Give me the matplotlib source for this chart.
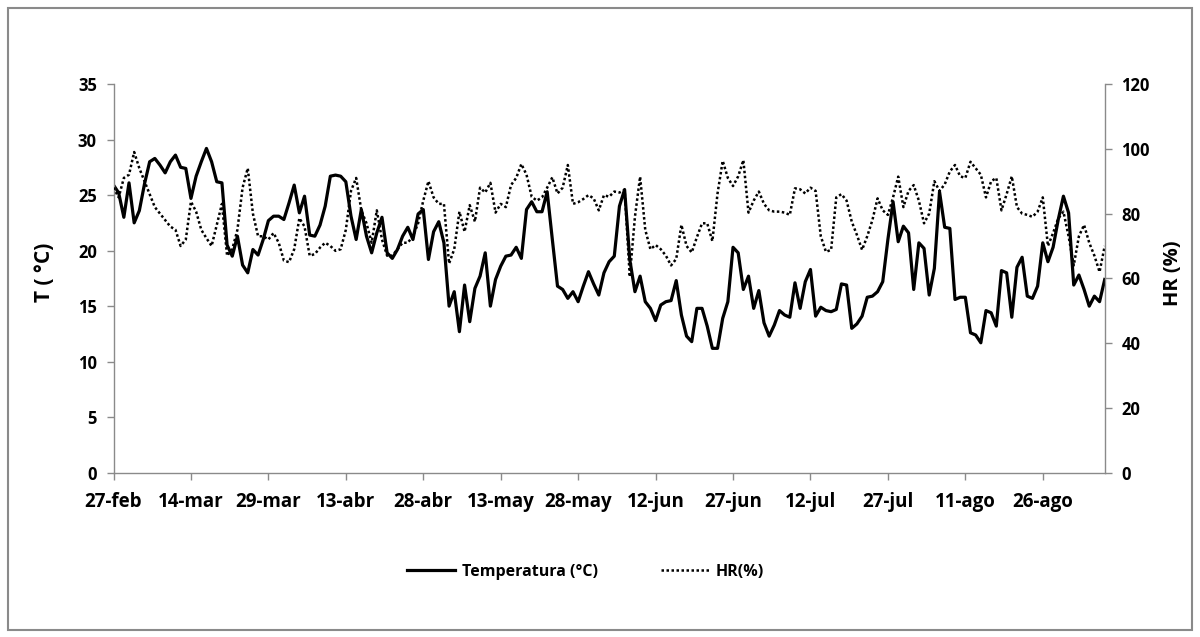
import matplotlib
matplotlib.use("Agg")
import matplotlib.pyplot as plt
import pandas as pd
from matplotlib.patches import Rectangle

# daily series starting 27-feb
start_date = "2013-02-27"

tick_labels = ["27-feb", "14-mar", "29-mar", "13-abr", "28-abr", "13-may", "28-may",
               "12-jun", "27-jun", "12-jul", "27-jul", "11-ago", "26-ago"]

temperatura = [
    25.9, 25.2, 23.0, 26.1, 22.5, 23.6, 26.0, 28.0, 28.3, 27.7,
    27.0, 28.0, 28.6, 27.5, 27.4, 24.7, 26.7, 28.0, 29.2, 28.0,
    26.2, 26.1, 20.5, 19.5, 21.3, 18.7, 18.0, 20.1, 19.6, 21.0,
    22.7, 23.1, 23.1, 22.8, 24.3, 25.9, 23.4, 24.9, 21.4, 21.3,
    22.3, 24.0, 26.7, 26.8, 26.7, 26.2, 23.1, 21.0, 23.7, 21.3,
    19.8, 21.6, 23.0, 19.8, 19.3, 20.1, 21.3, 22.1, 21.0, 23.3,
    23.7, 19.2, 21.7, 22.6, 20.7, 15.0, 16.3, 12.7, 16.9, 13.6,
    16.6, 17.7, 19.8, 15.0, 17.4, 18.6, 19.5, 19.6, 20.3, 19.3,
    23.7, 24.4, 23.5, 23.5, 25.3, 21.0, 16.8, 16.5, 15.7, 16.3,
    15.4, 16.8, 18.1, 17.0, 16.0, 18.0, 19.0, 19.5, 24.0, 25.5,
    19.2, 16.3, 17.7, 15.4, 14.8, 13.7, 15.1, 15.4, 15.5, 17.3,
    14.2, 12.3, 11.8, 14.8, 14.8, 13.2, 11.2, 11.2, 13.9, 15.4,
    20.3, 19.8, 16.5, 17.7, 14.8, 16.4, 13.5, 12.3, 13.3, 14.6,
    14.2, 14.0, 17.1, 14.8, 17.2, 18.3, 14.1, 14.9, 14.6, 14.5,
    14.7, 17.0, 16.9, 13.0, 13.4, 14.1, 15.8, 15.9, 16.3, 17.2,
    21.0, 24.4, 20.8, 22.2, 21.6, 16.5, 20.7, 20.2, 16.0, 18.4,
    25.3, 22.1, 22.0, 15.6, 15.8, 15.8, 12.6, 12.4, 11.7, 14.6,
    14.4, 13.2, 18.2, 18.0, 14.0, 18.5, 19.4, 15.9, 15.7, 16.8,
    20.7, 19.0, 20.3, 22.8, 24.9, 23.4, 16.9, 17.8, 16.5, 15.0,
    15.9, 15.4, 17.4,
]

hr = [
    88, 85, 91, 92, 99, 94, 90, 86, 82, 80,
    78, 76, 75, 70, 72, 83.7, 80.6, 75, 72.4, 70,
    76.5, 83, 67, 69, 75, 88, 94, 80, 73, 73,
    72, 74, 71, 65.5, 65, 69, 78.6, 76, 67, 67.5,
    69.5, 71, 70, 68.5, 69, 75, 87, 91, 81, 77,
    71, 81, 72, 67, 67, 69, 71, 71, 73, 77,
    84, 90, 85, 83, 83, 64.6, 69, 80.6, 74.4, 82.6,
    77.5, 88, 86.5, 89.5, 80.3, 83, 82, 88.8, 91, 95.3,
    92, 85.2, 84, 85, 88, 91.2, 86.2, 88, 95, 83,
    83.5, 84.5, 85.7, 84.7, 81, 85.7, 85.2, 86.8, 86.5, 87.3,
    60.5, 79, 91.4, 75, 69, 70.3, 69, 67, 64, 66,
    76.5, 70, 68, 72.7, 77, 77, 71.5, 86.2, 96.3, 91,
    88.5, 91.5, 96.5, 80.3, 84, 86.8, 83, 81, 80.6, 80.6,
    80.3, 79.6, 87.8, 87.5, 86.2, 88, 87, 73, 68.2, 68.8,
    85, 86, 84, 77.5, 73.4, 68.8, 73, 78, 84.7, 81,
    79.6, 85, 91.4, 82, 87, 88.8, 84, 77, 80, 90,
    87, 89, 93, 95, 91.5, 91, 96, 94, 92, 85,
    90, 91, 81, 86, 91.5, 82, 80, 79.6, 79, 80.6,
    85, 70, 74, 78.5, 80.6, 73, 64, 73, 76.5, 71,
    67, 62, 70,
]

plt.rcParams['font.family'] = ['Open Sans', 'DejaVu Sans']
plt.rcParams['font.weight'] = 'bold'

dates = pd.date_range(start_date, periods=len(temperatura), freq='D')
axis_grey = '#8a8a8a'

fig = plt.figure(figsize=(12, 6.37), dpi=100)
ax = fig.add_axes([0.0946, 0.2579, 0.9206 - 0.0946, 0.8681 - 0.2579])
ax2 = ax.twinx()

line_t, = ax.plot(dates, temperatura, color='black', lw=2.3, solid_joinstyle='round')
line_hr, = ax2.plot(dates, hr, color='black', lw=1.8, linestyle=(0, (1, 1)))

ax.set_xlim(dates[0], dates[-1])
ax.set_ylim(0, 35)
ax2.set_ylim(0, 120)
ax.set_yticks(range(0, 36, 5))
ax2.set_yticks(range(0, 121, 20))
ax.set_xticks(dates[::15][:len(tick_labels)])
ax.set_xticklabels(tick_labels)

for a in (ax, ax2):
    a.spines['top'].set_visible(False)
    for s in ('left', 'right', 'bottom'):
        a.spines[s].set_color(axis_grey)
        a.spines[s].set_linewidth(1.0)
ax.spines['right'].set_visible(False)
ax2.spines['left'].set_visible(False)
ax2.spines['bottom'].set_visible(False)

ax.tick_params(axis='y', direction='out', length=5, width=1, color=axis_grey, pad=7, labelsize=12)
ax2.tick_params(axis='y', direction='out', length=5, width=1, color=axis_grey, pad=7, labelsize=12)
ax.tick_params(axis='x', direction='out', length=5, width=1, color=axis_grey, pad=9, labelsize=13.5)

fig.text(0.0375, 0.573, 'T ( °C)', rotation=90, ha='center', va='center', fontsize=15, fontweight='bold')
fig.text(0.9775, 0.571, 'HR (%)', rotation=90, ha='center', va='center', fontsize=14.5, fontweight='bold')

fig.legend([line_t, line_hr], ['Temperatura (°C)', 'HR(%)'], loc='center',
           bbox_to_anchor=(0.488, 0.102), ncol=2, frameon=False, fontsize=11.5,
           handlelength=3.0, handletextpad=0.4, columnspacing=4.0)

fig.patches.append(Rectangle((8 / 1200, 7 / 637), 1184 / 1200, 622 / 637,
                             transform=fig.transFigure, fill=False,
                             edgecolor=axis_grey, linewidth=1.5))

fig.savefig('out.png', dpi=100)
